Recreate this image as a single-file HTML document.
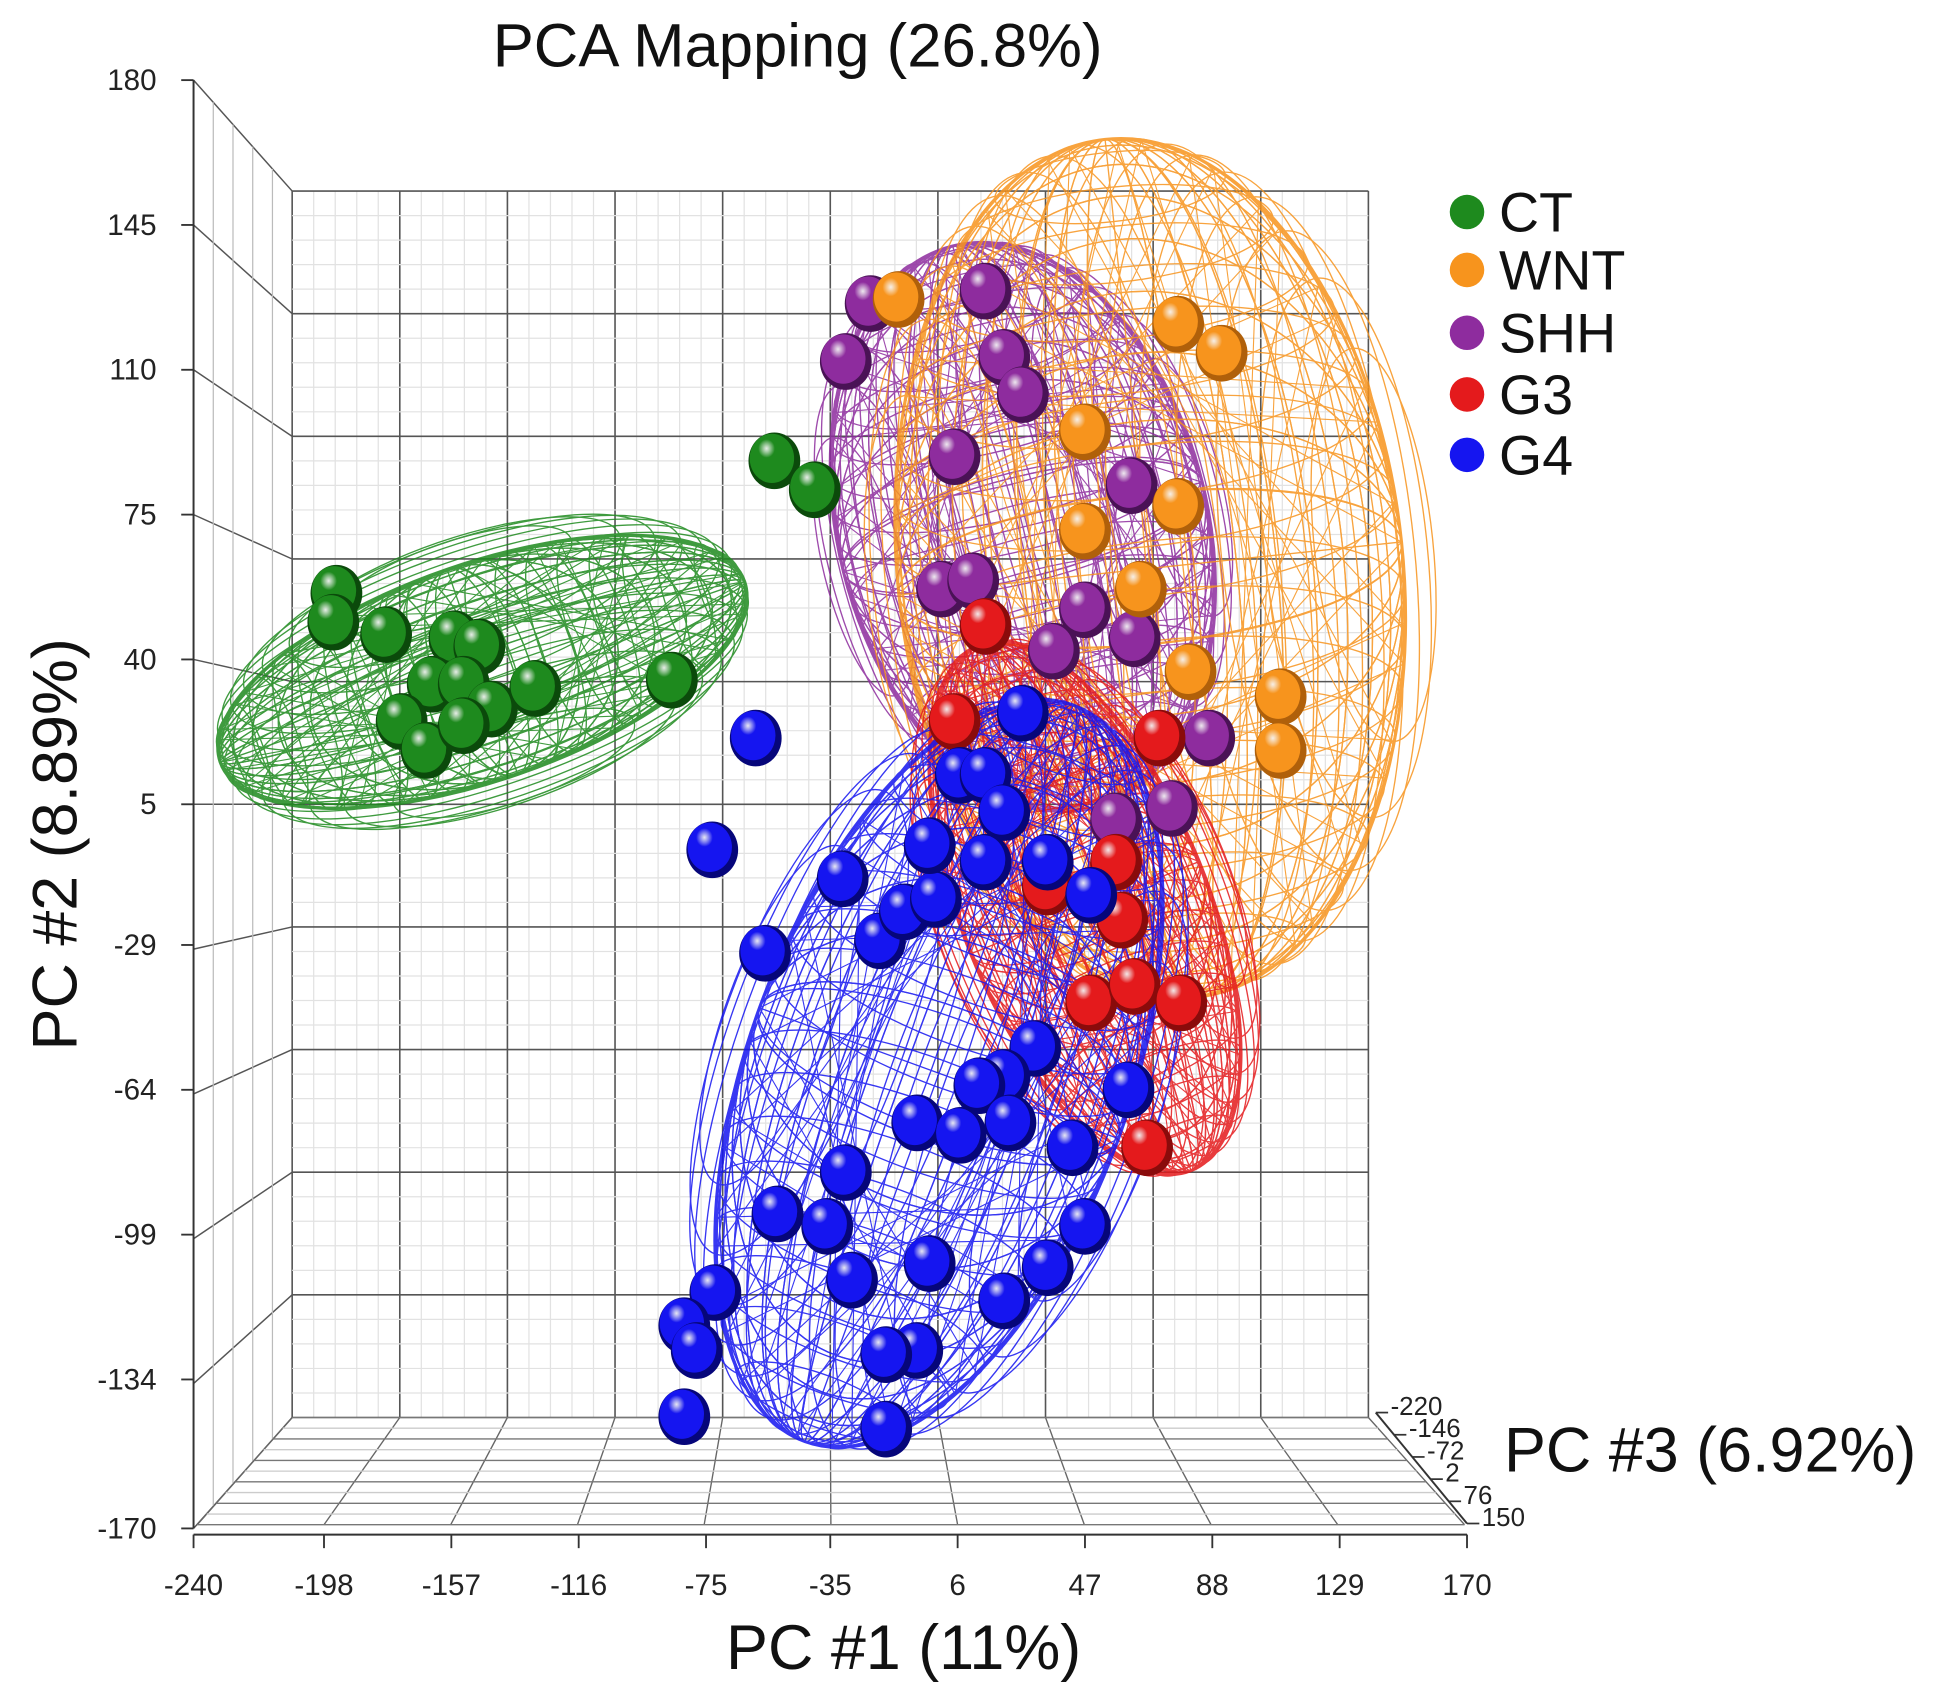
<!DOCTYPE html>
<html><head><meta charset="utf-8"><style>
html,body{margin:0;padding:0;background:#fff;}
svg{display:block;font-family:"Liberation Sans",Arial,sans-serif;}
</style></head><body>
<svg id="chart" width="1933" height="1701" viewBox="0 0 1568 1380" preserveAspectRatio="none" xmlns="http://www.w3.org/2000/svg">
<defs id="defs"></defs>
<rect x="0" y="0" width="1568" height="1380" fill="#fff"/>
<g id="grid"></g>
<g id="axes"></g>
<g id="plot"></g>
<text x="647" y="54" font-size="50" text-anchor="middle" fill="#111">PCA Mapping (26.8%)</text>
<text x="733" y="1354" font-size="51" text-anchor="middle" fill="#111">PC #1 (11%)</text>
<text x="0" y="0" font-size="51" text-anchor="middle" fill="#111" transform="translate(62,685) rotate(-90)">PC #2 (8.89%)</text>
<text x="1220" y="1194" font-size="51" fill="#111">PC #3 (6.92%)</text>
<g id="legend"></g>
</svg>
<script>
const NS="http://www.w3.org/2000/svg";
const xTicks=[-240,-198,-157,-116,-75,-35,6,47,88,129,170];
const yTicks=[180,145,110,75,40,5,-29,-64,-99,-134,-170];
const zTicks=[-220,-146,-72,2,76,150];
const groups=["CT","WNT","SHH","G3","G4"];
const groupColors=["#1e8a1e","#f7941d","#8e2c9e","#e41a1c","#1515f0"];
const ctX=[-194,-195,-178,-156,-148,-163,-153,-144,-130,-173,-165,-153,-86,-53,-40];
const ctY=[56,49,46,45,43,34,34,28,33,25,18,24,35,88,81];
const wntX=[-13,77,91,47,77,47,65,81,110,110];
const wntY=[127,121,114,95,77,71,57,37,31,18];
const shhX=[-22,15,21,27,-30,5,62,1,11,47,63,37,87,57,75];
const shhY=[126,129,113,104,112,89,82,57,59,52,45,42,21,1,4];
const g3X=[15,5,71,35,57,49,63,78,67,59];
const g3Y=[48,25,21,-15,-9,-43,-39,-43,-78,-23];
const g4X=[-59,-73,-31,-56,-19,-11,-1,-3,7,15,21,15,27,35,49,31,21,13,-7,7,23,43,61,-30,-52,-36,-28,-3,21,35,47,-72,-82,-78,-7,-17,-17,-82];
const g4Y=[21,-6,-13,-31,-28,-21,-18,-5,12,12,3,-9,27,-9,-17,-54,-61,-63,-72,-75,-72,-78,-64,-84,-94,-97,-110,-106,-115,-107,-97,-113,-121,-127,-127,-128,-146,-143];
// ellipsoid centers (data units)
const ellX=[-147,68,27,47,0];
const ellY=[37,62,72,-20,-60];

const X0=157,X1=1190,Y0=1240,Y1=65;
function sx(v){return X0+(v-xTicks[0])*(X1-X0)/(xTicks[xTicks.length-1]-xTicks[0]);}
function sy(v){return Y0-(v-yTicks[yTicks.length-1])*(Y0-Y1)/(yTicks[0]-yTicks[yTicks.length-1]);}

function el(tag,attrs,parent){const e=document.createElementNS(NS,tag);for(const k in attrs)e.setAttribute(k,attrs[k]);parent.appendChild(e);return e;}
const grid=document.getElementById('grid'),axes=document.getElementById('axes'),plot=document.getElementById('plot'),defs=document.getElementById('defs'),legend=document.getElementById('legend');

const BX0=237,BX1=1110,BY0=155,BY1=1150;
const FL=160,FR=1188,FY=1237;
function line(x1,y1,x2,y2,c,w,p){return el('line',{x1:x1,y1:y1,x2:x2,y2:y2,stroke:c,'stroke-width':w},p);}
for(let i=0;i<=50;i++){const x=BX0+(BX1-BX0)*i/50;const maj=i%5==0;const l=line(x,BY0,x,BY1,maj?'#555':'#e2e2e2',maj?1.3:1,grid);}
for(let i=0;i<=50;i++){const y=BY0+(BY1-BY0)*i/50;const maj=i%5==0;const l=line(BX0,y,BX1,y,maj?'#555':'#e2e2e2',maj?1.3:1,grid);}
for(let i=0;i<=10;i++){const yl=Y1+(Y0-Y1)*i/10;const yb=BY0+(BY1-BY0)*i/10;const l=line(X0,yl,BX0,yb,'#555',1.2,grid);}
for(let j=1;j<5;j++){const t=j/5;const l=line(X0+(BX0-X0)*t,Y1+(BY0-Y1)*t,X0+(BX0-X0)*t,Y0+(BY1-Y0)*t,'#bbb',1,grid);}
for(let i=0;i<=10;i++){const t=i/10;const l=line(FL+(FR-FL)*t,FY,BX0+(BX1-BX0)*t,BY1,'#666',1.1,grid);}
for(let j=0;j<=10;j++){const t=j/10;const l=line(BX0+(FL-BX0)*t,BY1+(FY-BY1)*t,BX1+(FR-BX1)*t,BY1+(FY-BY1)*t,j%2==0?'#777':'#ccc',1.1,grid);}

let a=line(X0,Y1,X0,Y0,'#333',1.6,axes);
yTicks.forEach(v=>{const y=sy(v);const t=line(X0-10,y,X0,y,'#333',1.5,axes);
 const tx=el('text',{x:127,y:y+8,'font-size':24,'text-anchor':'end',fill:'#222'},axes);tx.textContent=v;});
a=line(X0,1245,X1,1245,'#333',1.6,axes);
xTicks.forEach(v=>{const x=sx(v);const t=line(x,1245,x,1256,'#333',1.5,axes);
 const tx=el('text',{x:x,y:1294,'font-size':24,'text-anchor':'middle',fill:'#222'},axes);tx.textContent=v;});
const ZA=[1116,1146],ZB=[1190,1236];
a=line(ZA[0],ZA[1],ZB[0],ZB[1],'#333',1.6,axes);
zTicks.forEach((v,i)=>{const t=(v-zTicks[0])/(zTicks[zTicks.length-1]-zTicks[0]);const x=ZA[0]+(ZB[0]-ZA[0])*t,y=ZA[1]+(ZB[1]-ZA[1])*t;
 const tk=line(x,y,x+10,y,'#333',1.4,axes);
 const tx=el('text',{x:x+12,y:y+2,'font-size':21,fill:'#222'},axes);tx.textContent=v;});

// ellipsoid styling: rx, ry, rotation (pixels/deg), indexed by group
const ellStyle=[[225,88,-19],[205,350,-6],[150,235,-14],[100,230,-22],[155,318,20]];
function mesh(gi){
 const [rx,ry,rot]=ellStyle[gi];const cx=sx(ellX[gi]),cy=sy(ellY[gi]);const c=groupColors[gi];
 const g=el('g',{transform:`translate(${cx},${cy}) rotate(${rot})`,fill:'none',stroke:c,'stroke-width':1.1,opacity:0.85},plot);
 
 
 const N=18;
 for(let k=0;k<N;k++){const f=Math.cos(Math.PI*k/N);el('ellipse',{cx:0,cy:0,rx:Math.abs(rx*f),ry:ry},g);}
 for(let k=0;k<N;k++){const f=Math.cos(Math.PI*k/N);el('ellipse',{cx:0,cy:0,rx:rx,ry:Math.abs(ry*f)},g);}
 for(let k=1;k<N;k++){const s=-1+2*k/N;const w=rx*Math.sqrt(1-s*s);el('ellipse',{cx:0,cy:ry*s,rx:w,ry:w*0.3},g);}
 for(let k=1;k<N;k++){const s=-1+2*k/N;const h=ry*Math.sqrt(1-s*s);el('ellipse',{cx:rx*s,cy:0,rx:h*0.3,ry:h},g);}
 const M=22;
 for(let k=0;k<M;k++){const t1=2*Math.PI*k/M,t2=t1+2.2,t3=t1+3.9;
  el('line',{x1:rx*Math.cos(t1),y1:ry*Math.sin(t1),x2:rx*Math.cos(t2),y2:ry*Math.sin(t2),'stroke-width':0.9},g);
  el('line',{x1:rx*Math.cos(t1),y1:ry*Math.sin(t1),x2:rx*Math.cos(t3),y2:ry*Math.sin(t3),'stroke-width':0.9},g);}
 el('ellipse',{cx:0,cy:0,rx:rx,ry:ry,'stroke-width':2.5},g);
}
[0,2,1,3,4].forEach(mesh);

groupColors.forEach((c,i)=>{const rg=el('radialGradient',{id:'g'+i,cx:'0.38',cy:'0.3',r:'0.75'},defs);
 el('stop',{offset:'0','stop-color':'#fff','stop-opacity':'0.9'},rg);el('stop',{offset:'0.25','stop-color':c},rg);el('stop',{offset:'1','stop-color':c,'stop-opacity':'1'},rg);});
const series=[[ctX,ctY],[wntX,wntY],[shhX,shhY],[g3X,g3Y],[g4X,g4Y]];
const shade=['#0b4a0b','#b0600a','#4a1256','#8a0b0b','#06067a'];
[0,2,1,3,4].forEach(gi=>{const [xs,ys]=series[gi];
 xs.forEach((v,i)=>{
  const s=el('ellipse',{cx:sx(v),cy:sy(ys[i]),rx:21,ry:23,fill:shade[gi]},plot);
  
  
  const h=el('ellipse',{cx:sx(v)-2,cy:sy(ys[i])-2,rx:18,ry:20,fill:'url(#g'+gi+')'},plot);
  
  
 });});

const LY=[172,219,270,320,369];
groups.forEach((gname,i)=>{
 const c=el('circle',{cx:1190,cy:LY[i],r:14,fill:groupColors[i]},legend);
 
 
 const t=el('text',{x:1216,y:LY[i]+16,'font-size':45,fill:'#111'},legend);t.textContent=gname;
 
 
});
</script>
</body></html>
